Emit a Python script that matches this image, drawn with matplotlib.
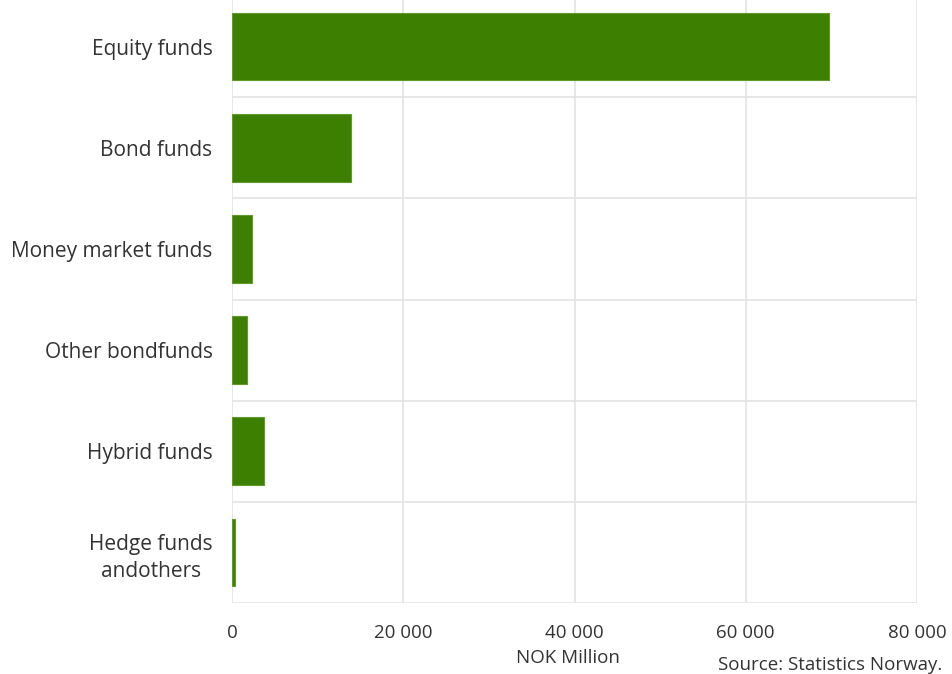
import matplotlib.pyplot as plt
from matplotlib.ticker import FuncFormatter

categories = ['Equity funds', 'Bond funds', 'Money market funds',
              'Other bondfunds', 'Hybrid funds', 'Hedge funds\nandothers']
values = [69700, 13900, 2300, 1750, 3700, 400]
xticks = [0, 20000, 40000, 60000, 80000]

plt.rcParams['font.family'] = ['Open Sans', 'DejaVu Sans']

fig = plt.figure(figsize=(9.52, 6.74), dpi=100)
ax = fig.add_axes([232 / 952, (674 - 603) / 674, (917 - 232) / 952, 607 / 674])

pos = list(range(len(categories)))
ax.barh(pos, values, height=0.67, color='#3d7f00', edgecolor='#5f9a2a',
        linewidth=0.8, zorder=3)

ax.set_xlim(0, 80000)
ax.set_ylim(len(categories) - 0.5, -0.5)
ax.set_xticks(xticks)
ax.xaxis.set_major_formatter(FuncFormatter(lambda v, p: f'{int(v):,}'.replace(',', ' ')))
ax.set_yticks(pos)
ax.set_yticklabels(categories, fontsize=15, linespacing=1.35)

# grid: vertical at ticks, horizontal separators between categories
ax.grid(axis='x', color='#e3e3e3', linewidth=1.2, zorder=0)
for b in range(len(categories)):
    ax.axhline(b + 0.5, color='#e3e3e3', linewidth=1.2, zorder=0)

for s in ax.spines.values():
    s.set_visible(False)
ax.tick_params(axis='both', length=0, colors='#333333')
ax.tick_params(axis='x', labelsize=13.5, pad=15)
ax.tick_params(axis='y', pad=14)
for lab in ax.get_yticklabels():
    lab.set_horizontalalignment('right')
    lab.set_multialignment('center')

fig.text(568 / 952, 1 - 658 / 674, 'NOK Million', ha='center', va='center',
         fontsize=13.5, color='#333333')
fig.text(942 / 952, 1 - 665 / 674, 'Source: Statistics Norway.', ha='right',
         va='center', fontsize=13.5, color='#333333')

fig.savefig('out.png', dpi=100)
